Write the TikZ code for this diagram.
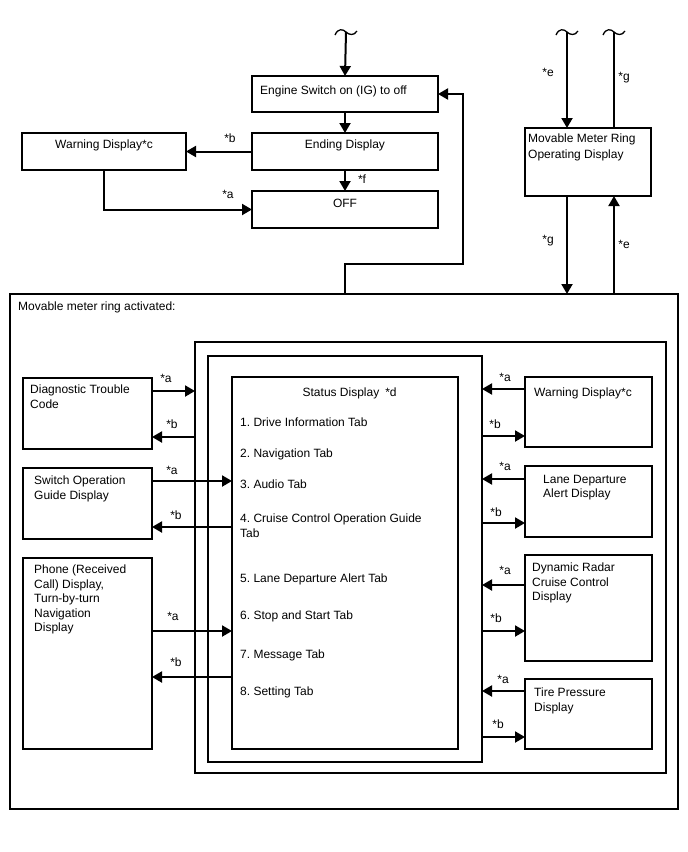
\documentclass[tikz,border=0pt]{standalone}
\usepackage{fontspec}
\setmainfont{Liberation Sans}
\usepackage{tikz}
\usetikzlibrary{arrows.meta}
\frenchspacing

\begin{document}
\begin{tikzpicture}[
    x=1pt, y=-1pt,
    block/.style={rectangle, draw, line width=1.3pt, anchor=north west, inner sep=0pt, outer sep=0pt},
    arrow/.style={-{Triangle[length=10pt, width=11pt]}, line width=2pt},
    conn/.style={line width=2pt},
    txt/.style={anchor=north west, inner sep=0pt, align=left, font=\fontsize{12pt}{14.5pt}\selectfont},
    ctxt/.style={txt, anchor=north, align=center},
    tag/.style={inner sep=0pt, font=\fontsize{12pt}{14.5pt}\selectfont},
    wave/.pic={\draw[line width=1.3pt] (-11,3) .. controls (-8,-4) and (-3,-3) .. (0,0) .. controls (3,3) and (8,4) .. (11,-1);}
]
\useasboundingbox (0,0) rectangle (688,852);

% Inputs cut off at the top
\coordinate (inIG) at (346,32);
\coordinate (inE) at (567,32);
\coordinate (outG) at (614,32);
\pic at (inIG) {wave};
\pic at (inE) {wave};
\pic at (outG) {wave};

% Engine switch
\node[block, minimum width=186pt, minimum height=36pt] (engine) at (252,76) {};
\node[txt] (engine-t) at (260,85.6) {Engine Switch on (IG) to off};

% Ending display
\node[block, minimum width=186pt, minimum height=37pt] (ending) at (252,133) {};
\node[ctxt] (ending-t) at (345,139.6) {Ending Display};

% Warning display (top)
\node[block, minimum width=164pt, minimum height=37pt] (warnTop) at (22,133) {};
\node[ctxt] (warnTop-t) at (104,139.6) {Warning Display*c};

% OFF
\node[block, minimum width=186pt, minimum height=37pt] (off) at (252,191) {};
\node[ctxt] (off-t) at (345,198.6) {OFF};

% Movable meter ring operating display
\node[block, minimum width=126pt, minimum height=68pt] (meterOp) at (525,128) {};
\node[txt, font=\fontsize{12pt}{16pt}\selectfont] (meterOp-t) at (528,133.6) {Movable Meter Ring\\Operating Display};

% Movable meter ring activated
\node[block, minimum width=668pt, minimum height=515pt] (outer) at (10,294) {};
\node[txt] (outer-t) at (18,302) {Movable meter ring activated:};
\node[block, minimum width=471pt, minimum height=431pt] (mid) at (195,342) {};
\node[block, minimum width=274pt, minimum height=406pt] (inner) at (208,356) {};

% Status display
\node[block, minimum width=226pt, minimum height=372pt] (status) at (232,377) {};
\node[ctxt] (status-t) at (341,387.6) {Status Display};
\node[tag] (status-d) at (391,392) {*d};
\node[txt] (tab1) at (240,417.6) {1. Drive Information Tab};
\node[txt] (tab2) at (240,448.6) {2. Navigation Tab};
\node[txt] (tab3) at (240,479.6) {3. Audio Tab};
\node[txt] (tab4) at (240,513.6) {4. Cruise Control Operation Guide\\Tab};
\node[txt] (tab5) at (240,573.6) {5. Lane Departure Alert Tab};
\node[txt] (tab6) at (240,610.6) {6. Stop and Start Tab};
\node[txt] (tab7) at (240,649.6) {7. Message Tab};
\node[txt] (tab8) at (240,686.6) {8. Setting Tab};

% Left displays
\node[block, minimum width=129pt, minimum height=71pt] (dtc) at (23,378) {};
\node[txt] (dtc-t) at (30,385) {Diagnostic Trouble\\Code};
\node[block, minimum width=129pt, minimum height=71pt] (sog) at (23,468) {};
\node[txt] (sog-t) at (34,475.6) {Switch Operation\\Guide Display};
\node[block, minimum width=129pt, minimum height=191pt] (phone) at (23,558) {};
\node[txt] (phone-t) at (34,564.6) {Phone (Received\\Call) Display,\\Turn-by-turn\\Navigation\\Display};

% Right displays
\node[block, minimum width=127pt, minimum height=70pt] (warn) at (525,377) {};
\node[txt] (warn-t) at (534,387.6) {Warning Display*c};
\node[block, minimum width=127pt, minimum height=71pt] (lda) at (525,466) {};
\node[txt] (lda-t) at (543,474.6) {Lane Departure\\Alert Display};
\node[block, minimum width=127pt, minimum height=106pt] (drcc) at (525,555) {};
\node[txt] (drcc-t) at (532,562.6) {Dynamic Radar\\Cruise Control\\Display};
\node[block, minimum width=127pt, minimum height=70pt] (tire) at (525,679) {};
\node[txt] (tire-t) at (534,687.6) {Tire Pressure\\Display};

% Arrows - top
\draw[arrow] (inIG) -- (engine.north);
\draw[arrow] (engine.south) -- (ending.north);
\draw[arrow] (ending.west) -- (warnTop.east);
\draw[arrow] (ending.south) -- (off.north);
\draw[arrow] (warnTop.south) |- (off.west);
\coordinate (ret) at (463,264);
\draw[arrow] (outer.north -| engine.south) |- (ret) |- (engine.east);
\node[tag] (tb1) at (230,138) {*b};
\node[tag] (tf1) at (362,179) {*f};
\node[tag] (ta1) at (228,194) {*a};

% Arrows - meter ring operating display
\draw[arrow] (inE) -- (inE |- meterOp.north);
\draw[conn] (meterOp.north -| outG) -- (outG);
\draw[arrow] (meterOp.south -| inE) -- (outer.north -| inE);
\draw[arrow] (outer.north -| outG) -- (meterOp.south -| outG);
\node[tag] (te1) at (548,72) {*e};
\node[tag] (tg1) at (624,78) {*g};
\node[tag] (tg2) at (548,241) {*g};
\node[tag] (te2) at (624,244) {*e};

% Arrows - left displays
\draw[arrow] (dtc.east |- 0,391) -- (mid.west |- 0,391);
\draw[arrow] (mid.west |- 0,437) -- (dtc.east |- 0,437);
\draw[arrow] (sog.east |- 0,481) -- (status.west |- 0,481);
\draw[arrow] (status.west |- 0,527) -- (sog.east |- 0,527);
\draw[arrow] (phone.east |- 0,631) -- (status.west |- 0,631);
\draw[arrow] (status.west |- 0,677) -- (phone.east |- 0,677);
\node[tag] (ta2) at (166,378) {*a};
\node[tag] (tb2) at (172,424) {*b};
\node[tag] (ta3) at (172,470) {*a};
\node[tag] (tb3) at (176,515) {*b};
\node[tag] (ta4) at (173,616) {*a};
\node[tag] (tb4) at (176,662) {*b};

% Arrows - right displays
\draw[arrow] (warn.west |- 0,389) -- (inner.east |- 0,389);
\draw[arrow] (inner.east |- 0,436) -- (warn.west |- 0,436);
\draw[arrow] (lda.west |- 0,479) -- (inner.east |- 0,479);
\draw[arrow] (inner.east |- 0,523) -- (lda.west |- 0,523);
\draw[arrow] (drcc.west |- 0,585) -- (inner.east |- 0,585);
\draw[arrow] (inner.east |- 0,631) -- (drcc.west |- 0,631);
\draw[arrow] (tire.west |- 0,691) -- (inner.east |- 0,691);
\draw[arrow] (inner.east |- 0,737) -- (tire.west |- 0,737);
\node[tag] (ta5) at (505,377) {*a};
\node[tag] (tb5) at (495,424) {*b};
\node[tag] (ta6) at (505,466) {*a};
\node[tag] (tb6) at (496,512) {*b};
\node[tag] (ta7) at (505,570) {*a};
\node[tag] (tb7) at (496,618) {*b};
\node[tag] (ta8) at (503,679) {*a};
\node[tag] (tb8) at (498,724) {*b};

\end{tikzpicture}
\end{document}
